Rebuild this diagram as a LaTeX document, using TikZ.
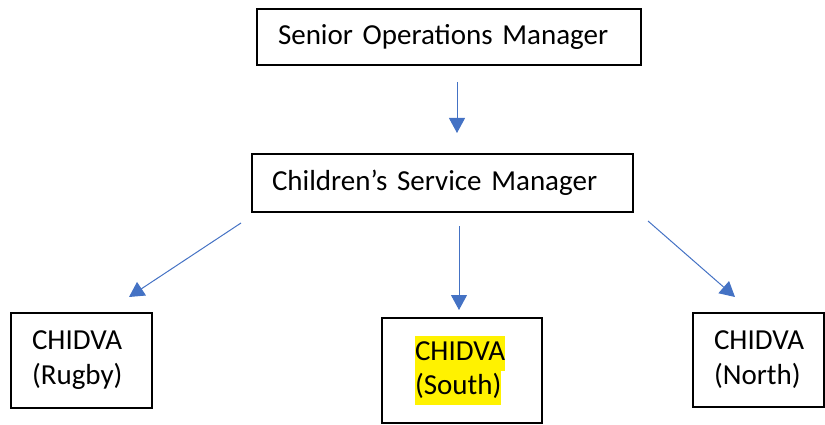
\documentclass[tikz,border=0pt]{standalone}
\usepackage{fontspec}
\setmainfont{Carlito}
\usepackage{xcolor}
\usetikzlibrary{arrows.meta}
\definecolor{linkblue}{RGB}{68,114,196}
\newcommand{\marker}[1]{{\setlength{\fboxsep}{0pt}\colorbox{yellow}{\strut #1}}}

\begin{document}
\begin{tikzpicture}[x=1pt,y=-1pt,
  box/.style={draw=black, line width=1.6pt, align=left, inner ysep=0pt,
    font=\fontsize{29}{35}\selectfont},
  link/.style={linkblue, line width=1pt, -{Triangle[length=15pt,width=16pt]}}]
\useasboundingbox (0,0) rectangle (825,425);

%%%%%%%%%%%%%%%%%%Draw The Manager Boxes%%%%%%%%%%%%%%%
\node[box, minimum width=384, minimum height=56, inner xsep=21pt, text width=342pt]
  (senior) at (449,37) {Senior Operations Manager};
\node[box, minimum width=381, minimum height=58, inner xsep=20pt, text width=341pt]
  (service) at (442.5,183) {Children’s Service Manager};

%%%%%%%%%%%%%%%%%%Draw The CHIDVA Boxes%%%%%%%%%%%%%%%%%
\node[box, minimum width=141, minimum height=95, inner xsep=21pt, text width=99pt]
  (rugby) at (81.5,360.5) {CHIDVA\\(Rugby)};
\node[box, minimum width=160, minimum height=105, inner xsep=33pt, text width=94pt]
  (south) at (462,370.5) {\marker{CHIDVA}\\[-1pt]\marker{(South)}};
\node[box, minimum width=131, minimum height=94, inner xsep=21pt, text width=89pt]
  (north) at (758.5,360) {CHIDVA\\(North)};

%%%%%%%%%%%%%%Arrow Ends Below Each Box%%%%%%%%%%%%%%
\coordinate (senior out) at (457,82);
\coordinate (service in) at (457,133);
\coordinate (rugby out) at (241,223);
\coordinate (rugby in) at (129,297);
\coordinate (south out) at (459,226);
\coordinate (south in) at (459,310);
\coordinate (north out) at (648,221);
\coordinate (north in) at (735,297);

%%%%%%%%%%%%%%%%%%Draw The Arrows%%%%%%%%%%%%%%%%%%%%
\draw[link] (senior out) -- (service in);
\draw[link] (rugby out) -- (rugby in);
\draw[link] (south out) -- (south in);
\draw[link] (north out) -- (north in);

\end{tikzpicture}
\end{document}
